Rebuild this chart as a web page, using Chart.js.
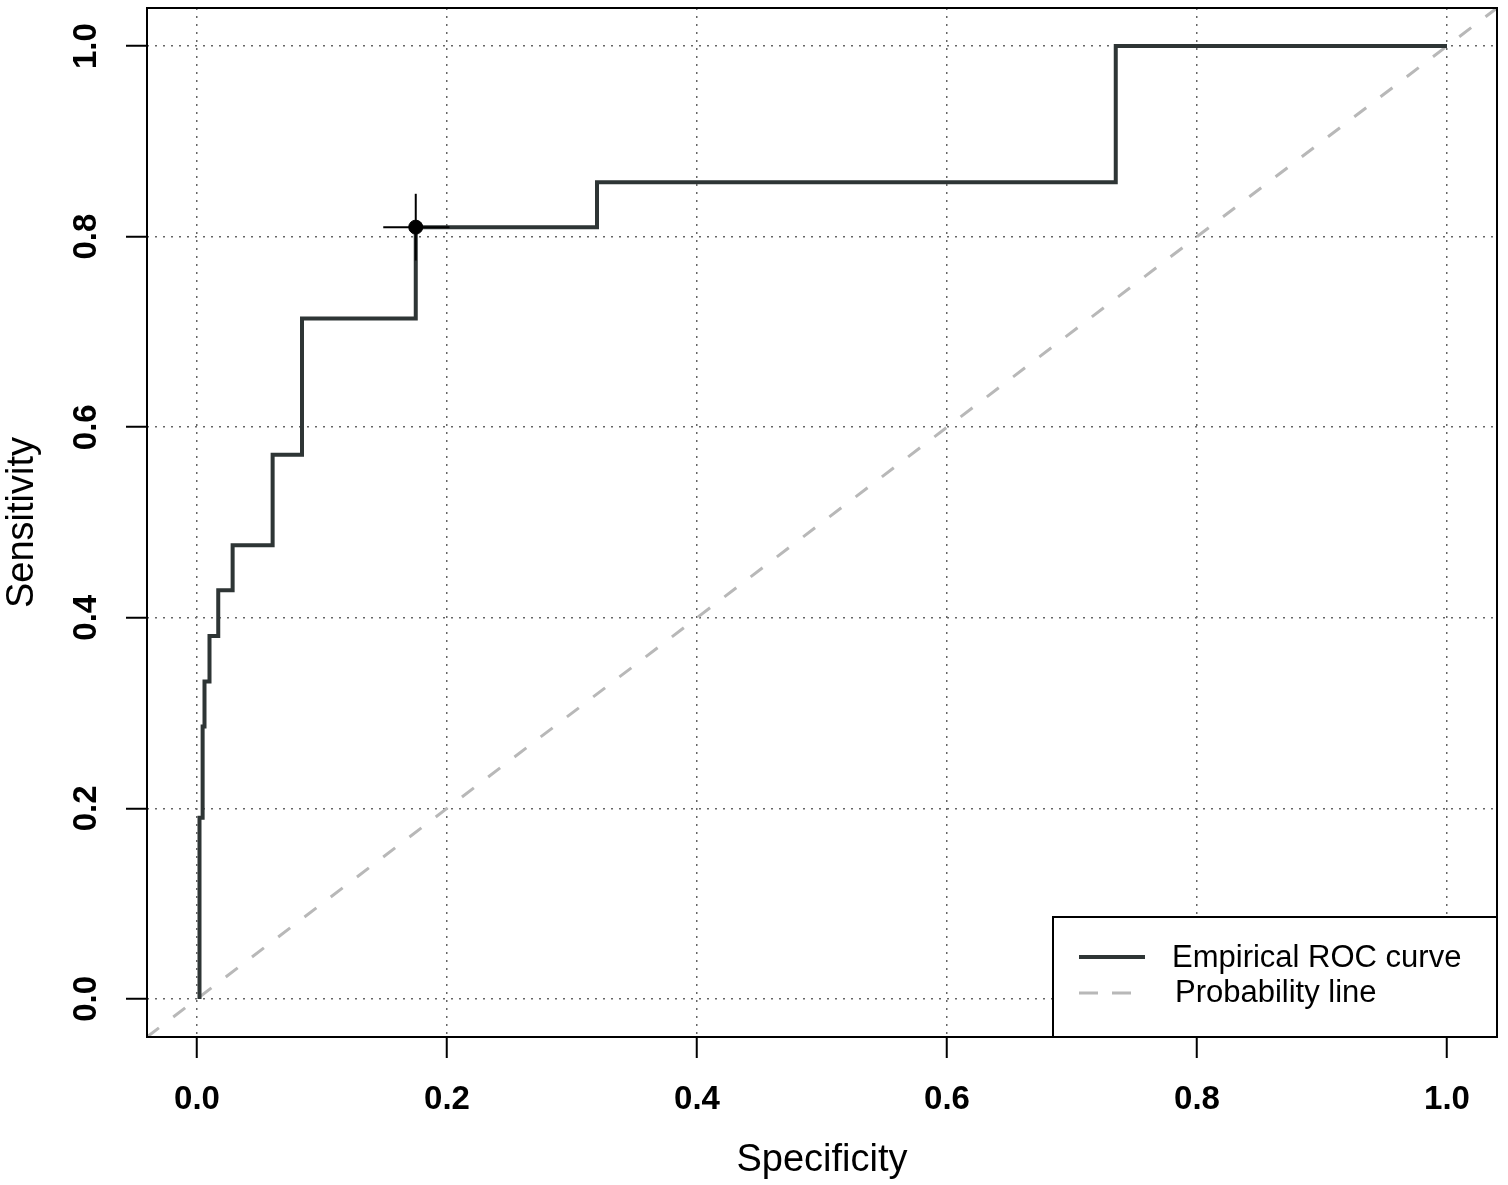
<!DOCTYPE html>
<html>
<head>
<meta charset="utf-8">
<script src="https://cdn.jsdelivr.net/npm/chart.js@4"></script>
<style>
  html, body { margin: 0; padding: 0; background: #fff; }
  #wrap { width: 1508px; height: 1185px; }
</style>
</head>
<body>
<div id="wrap"><canvas id="rocChart"></canvas></div>
<script>
/* ============================
   ROC DATA
   ============================ */

// empirical ROC corners (x = "Specificity" axis, y = Sensitivity)
const rocX = [0.002, 0.002, 0.0045, 0.0045, 0.006, 0.006, 0.010, 0.010, 0.017, 0.017,
              0.0285, 0.0285, 0.0605, 0.0605, 0.084, 0.084, 0.175, 0.175, 0.32, 0.32,
              0.735, 0.735, 1.0];
const rocY = [0, 0.190, 0.190, 0.286, 0.286, 0.333, 0.333, 0.381, 0.381, 0.429,
              0.429, 0.476, 0.476, 0.571, 0.571, 0.714, 0.714, 0.810, 0.810, 0.857,
              0.857, 1.0, 1.0];

// best threshold point and its confidence cross
const bestX = [0.175];
const bestY = [0.810];
const ciX = [0.149, 0.202];
const ciY = [0.775, 0.845];

// chance line
const chanceX = [-0.04, 1.04];
const chanceY = [-0.04, 1.04];

const tickValues = [0, 0.2, 0.4, 0.6, 0.8, 1.0];
const axisMin = -0.04;
const axisMax = 1.04;

const legendLabels = ["Empirical ROC curve", "Probability line"];

/* ============================
   HELPERS
   ============================ */

function pairs(xs, ys) {
  return xs.map((x, i) => ({ x: x, y: ys[i] }));
}

const FONT = "'Liberation Sans', Arial, Helvetica, sans-serif";
const CURVE = "#2e3535";
const CHANCE = "#b8b8b8";

/* ============================
   BOX + LEGEND PLUGIN
   ============================ */

const boxPlugin = {
  id: "boxPlugin",
  afterDraw(chart) {
    const ctx = chart.ctx;
    const a = chart.chartArea;
    ctx.save();

    // legend box, bottom right corner of the plot
    const lx = 1053, ly = 917;
    ctx.fillStyle = "#fff";
    ctx.fillRect(lx, ly, a.right - lx, a.bottom - ly);
    ctx.strokeStyle = "#000";
    ctx.lineWidth = 2;
    ctx.strokeRect(lx, ly, a.right - lx, a.bottom - ly);

    ctx.lineWidth = 4;
    ctx.strokeStyle = CURVE;
    ctx.beginPath();
    ctx.moveTo(1079, 957);
    ctx.lineTo(1145, 957);
    ctx.stroke();

    ctx.lineWidth = 3;
    ctx.strokeStyle = CHANCE;
    ctx.setLineDash([19, 14]);
    ctx.beginPath();
    ctx.moveTo(1079, 993);
    ctx.lineTo(1145, 993);
    ctx.stroke();
    ctx.setLineDash([]);

    ctx.fillStyle = "#000";
    ctx.font = "31px " + FONT;
    ctx.textBaseline = "middle";
    ctx.textAlign = "left";
    ctx.fillText(legendLabels[0], 1172, 958);
    ctx.fillText(legendLabels[1], 1175, 993);

    // frame round the plot
    ctx.strokeStyle = "#000";
    ctx.lineWidth = 2;
    ctx.strokeRect(a.left, a.top, a.right - a.left, a.bottom - a.top);
    ctx.restore();
  }
};

/* ============================
   CHART SETUP
   ============================ */

const ctx = document.getElementById("rocChart").getContext("2d");

const gridOpts = {
  color: "#666",
  lineWidth: 1.5,
  drawTicks: true,
  tickLength: 21,
  tickColor: "#000",
  tickWidth: 2,
  tickBorderDash: []
};

function noPad(s) {
  s.paddingTop = 0;
  s.paddingBottom = 0;
  s.paddingLeft = 0;
  s.paddingRight = 0;
}

const chart = new Chart(ctx, {
  type: "line",
  data: {
    datasets: [
      {
        label: "ci-h",
        data: pairs(ciX, [bestY[0], bestY[0]]),
        borderColor: "#000",
        borderWidth: 2,
        pointRadius: 0
      },
      {
        label: "ci-v",
        data: pairs([bestX[0], bestX[0]], ciY),
        borderColor: "#000",
        borderWidth: 2,
        pointRadius: 0
      },
      {
        label: "best",
        data: pairs(bestX, bestY),
        showLine: false,
        pointRadius: 7,
        pointBackgroundColor: "#000",
        pointBorderColor: "#000"
      },
      {
        label: legendLabels[0],
        data: pairs(rocX, rocY),
        borderColor: CURVE,
        borderWidth: 4,
        pointRadius: 0,
        borderJoinStyle: "miter",
        tension: 0
      },
      {
        label: legendLabels[1],
        data: pairs(chanceX, chanceY),
        borderColor: CHANCE,
        borderWidth: 3,
        borderDash: [15, 18],
        pointRadius: 0
      }
    ]
  },
  options: {
    responsive: true,
    maintainAspectRatio: false,
    animation: false,
    layout: { padding: { left: 0, right: 11, top: 6, bottom: 0 } },
    plugins: {
      legend: { display: false },
      tooltip: { enabled: false }
    },
    scales: {
      x: {
        type: "linear",
        min: axisMin,
        max: axisMax,
        afterBuildTicks: s => { s.ticks = tickValues.map(v => ({ value: v })); },
        afterFit: s => { s.height = 148; noPad(s); },
        grid: gridOpts,
        border: { display: false, dash: [2, 6] },
        ticks: {
          color: "#000",
          font: { family: FONT, size: 33, weight: "bold" },
          padding: 22,
          maxRotation: 0,
          callback: v => v.toFixed(1)
        },
        title: {
          display: true,
          text: "Specificity",
          color: "#000",
          font: { family: FONT, size: 38 },
          padding: { top: 0, bottom: 2 }
        }
      },
      y: {
        type: "linear",
        min: axisMin,
        max: axisMax,
        afterBuildTicks: s => { s.ticks = tickValues.map(v => ({ value: v })); },
        afterFit: s => { s.width = 147; noPad(s); },
        grid: gridOpts,
        border: { display: false, dash: [2, 6] },
        ticks: {
          color: "#000",
          font: { family: FONT, size: 33, weight: "bold" },
          padding: 16,
          minRotation: 90,
          maxRotation: 90,
          crossAlign: "center",
          callback: v => v.toFixed(1)
        },
        title: {
          display: true,
          text: "Sensitivity",
          color: "#000",
          font: { family: FONT, size: 38 },
          padding: { top: 0, bottom: 0 }
        }
      }
    }
  },
  plugins: [boxPlugin]
});
</script>
</body>
</html>
